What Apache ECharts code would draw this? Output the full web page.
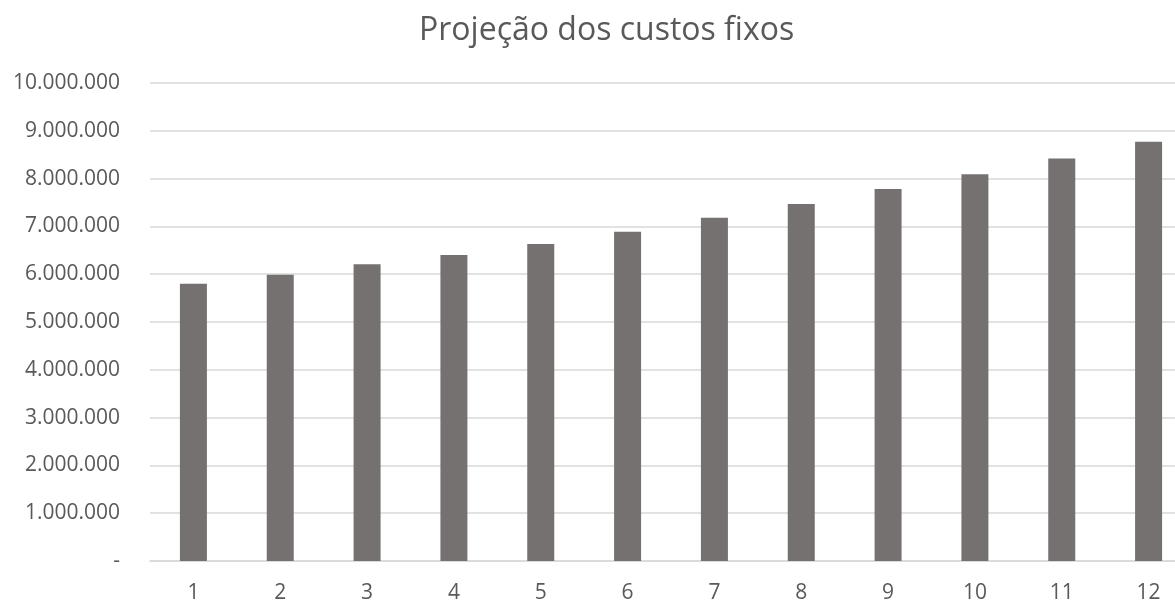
<!DOCTYPE html>
<html>
<head>
<meta charset="utf-8">
<script src="https://cdn.jsdelivr.net/npm/echarts@6/dist/echarts.min.js"></script>
<style>
html,body{margin:0;padding:0;background:#fff;}
#chart{width:1175px;height:600px;}
</style>
</head>
<body>
<div id="chart"></div>
<script>
var titleText = "Projeção dos custos fixos";
var categories = ["1","2","3","4","5","6","7","8","9","10","11","12"];
var costs = [5800000, 5990000, 6210000, 6400000, 6630000, 6890000, 7180000, 7470000, 7780000, 8090000, 8420000, 8770000];
var yMin = 0, yMax = 10000000, yStep = 1000000;

function fmt(v){
  if (v === 0) return "-";
  return String(Math.round(v)).replace(/\B(?=(\d{3})+(?!\d))/g, ".");
}

var chart = echarts.init(document.getElementById('chart'), null, {renderer:'canvas'});
chart.setOption({
  animation:false,
  backgroundColor:'#ffffff',
  textStyle:{fontFamily:'Open Sans'},
  title:{
    text:titleText,
    left:419,
    top:15,
    padding:0,
    textStyle:{fontFamily:'Open Sans', fontSize:32, fontWeight:'normal', color:'#595959'}
  },
  grid:{left:150, width:1042, top:83, height:478, containLabel:false, outerBoundsMode:'none'},
  xAxis:{
    type:'category',
    data:categories,
    axisLine:{show:true, lineStyle:{color:'#d9d9d9', width:1.5}},
    axisTick:{show:false},
    axisLabel:{color:'#595959', fontSize:21, fontFamily:'Open Sans', margin:22}
  },
  yAxis:{
    type:'value',
    min:yMin, max:yMax, interval:yStep,
    axisLine:{show:false},
    axisTick:{show:false},
    splitLine:{lineStyle:{color:'#d9d9d9', width:1.5}},
    axisLabel:{color:'#595959', fontSize:21, fontFamily:'Open Sans', margin:30, formatter:fmt}
  },
  series:[{
    type:'bar',
    data:costs,
    barWidth:27,
    itemStyle:{color:'#767171'}
  }]
});
</script>
</body>
</html>
